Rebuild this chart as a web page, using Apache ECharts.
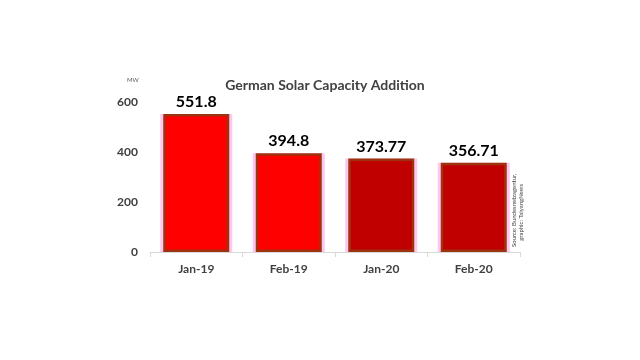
<!DOCTYPE html>
<html><head><meta charset="utf-8">
<script src="https://cdn.jsdelivr.net/npm/echarts@6/dist/echarts.min.js"></script>
<style>html,body{margin:0;padding:0;background:#fff}#c{width:640px;height:360px}</style>
</head><body><div id="c"></div>
<script>
const categories = ['Jan-19', 'Feb-19', 'Jan-20', 'Feb-20'];
const values = [551.8, 394.8, 373.77, 356.71];
const valueLabels = ['551.8', '394.8', '373.77', '356.71'];
const barColors = ['#ff0000', '#ff0000', '#c00000', '#c00000'];
const yTicks = [0, 200, 400, 600];
const FONT = 'Lato';

const chart = echarts.init(document.getElementById('c'));
chart.setOption({
  animation: false,
  backgroundColor: '#ffffff',
  title: {
    text: 'German Solar Capacity Addition',
    left: 320, top: 73, textAlign: 'center',
    textStyle: { fontFamily: FONT, fontSize: 14, fontWeight: 'bold', color: '#404040' }
  },
  graphic: [
    { type: 'text', left: 127, top: 77, style: { text: 'MW', fontSize: 6, fill: '#595959', fontFamily: FONT } },
    { type: 'text', x: 511, y: 247, rotation: Math.PI / 2,
      style: { text: 'Source: Bundesnetzagentur,\n    graphic: TaiyangNews', fontSize: 6, lineHeight: 7, fill: '#404040', fontFamily: FONT } }
  ],
  grid: { left: 150, right: 120, top: 102, bottom: 108 },
  xAxis: [{
    type: 'category', data: categories,
    axisLine: { lineStyle: { color: '#d9d9d9' } },
    axisTick: { show: true, lineStyle: { color: '#d9d9d9' } },
    axisLabel: { fontFamily: FONT, fontSize: 12, fontWeight: 'bold', color: '#404040', margin: 11 }
  }, {
    type: 'category', data: categories, position: 'bottom', show: false
  }],
  yAxis: {
    type: 'value', min: 0, max: 600, interval: 200,
    splitLine: { show: false },
    axisLine: { show: false }, axisTick: { show: false },
    axisLabel: { fontFamily: FONT, fontSize: 12, fontWeight: 'bold', color: '#404040', margin: 12,
      formatter: v => yTicks.includes(v) ? String(v) : '' }
  },
  series: [{
    type: 'bar', xAxisIndex: 1, barWidth: 72, silent: true, z: 1,
    data: values,
    itemStyle: { color: '#ffc6f0', borderColor: '#ffc6f0', borderWidth: 4 }
  }, {
    type: 'bar', xAxisIndex: 0, barWidth: 66, z: 2,
    data: values.map((v, i) => ({
      value: v,
      itemStyle: { color: barColors[i], borderColor: '#9c3410', borderWidth: 2.5 }
    })),
    label: {
      show: true, position: 'top', distance: 4,
      formatter: p => valueLabels[p.dataIndex],
      fontFamily: FONT, fontSize: 16, fontWeight: 'bold', color: '#000000'
    }
  }]
});
</script></body></html>
